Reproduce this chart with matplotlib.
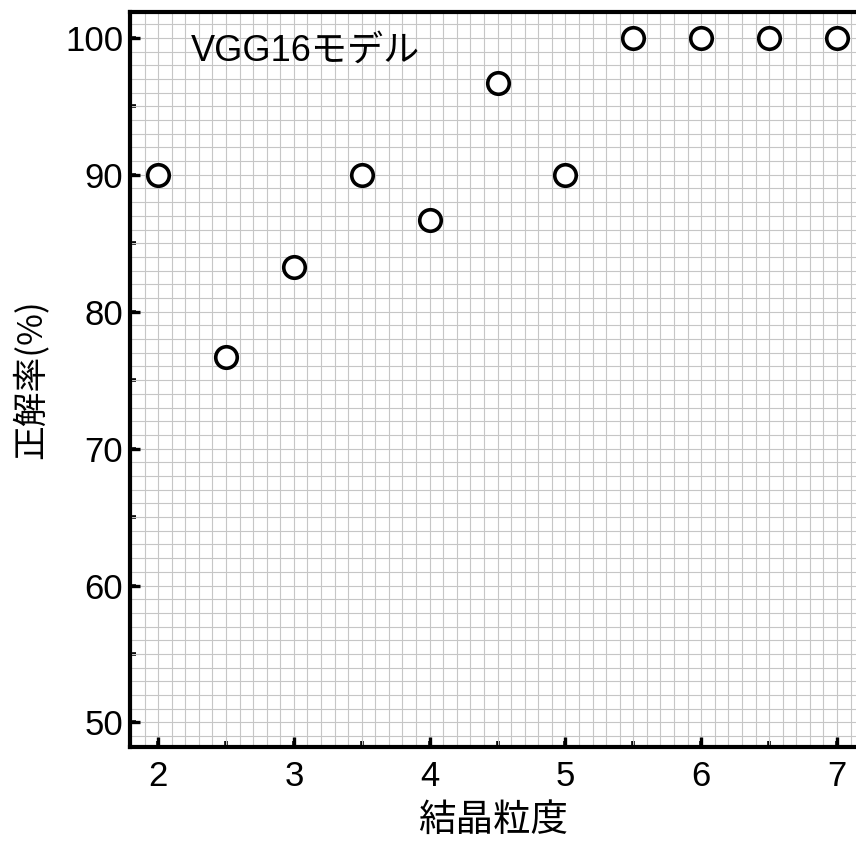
import matplotlib
matplotlib.use("Agg")
import matplotlib.pyplot as plt
from matplotlib.ticker import MultipleLocator

plt.rcParams['font.family'] = ['Liberation Sans', 'Noto Sans CJK JP', 'DejaVu Sans']

grain_size = [2.0, 2.5, 3.0, 3.5, 4.0, 4.5, 5.0, 5.5, 6.0, 6.5, 7.0]
accuracy = [90.0, 76.7, 83.3, 90.0, 86.7, 96.7, 90.0, 100.0, 100.0, 100.0, 100.0]
x_label = "結晶粒度"
y_label = "正解率(%)"
model_label = "VGG16モデル"

fig = plt.figure(figsize=(8.56, 8.47), dpi=100)
ax = fig.add_axes([0.152, 0.118, 0.848, 0.868])

ax.plot(grain_size, accuracy, linestyle='none', marker='o', markersize=15.5,
        markerfacecolor='white', markeredgecolor='black', markeredgewidth=2.6, zorder=3)

ax.set_xlim(1.794, 7.14)
ax.set_ylim(48.2, 101.9)

ax.xaxis.set_major_locator(MultipleLocator(1))
ax.xaxis.set_minor_locator(MultipleLocator(0.1))
ax.yaxis.set_major_locator(MultipleLocator(10))
ax.yaxis.set_minor_locator(MultipleLocator(1))

ax.grid(which='both', color='#c6c6c6', linewidth=0.8, zorder=0)
ax.set_axisbelow(True)

ax.tick_params(which='major', direction='in', length=7.5, width=2.4, labelsize=25,
               top=False, right=False)
ax.tick_params(axis='x', which='major', pad=9)
ax.tick_params(axis='y', which='major', pad=5)
ax.tick_params(which='minor', length=0)

ax2 = ax.secondary_xaxis('bottom')
ax2.xaxis.set_major_locator(MultipleLocator(0.5))
ax2.tick_params(direction='in', length=4.5, width=2.6, labelbottom=False, color='black')
ax3 = ax.secondary_yaxis('left')
ax3.yaxis.set_major_locator(MultipleLocator(5))
ax3.tick_params(direction='in', length=4.5, width=2.6, labelleft=False, color='black')
for a in (ax2, ax3):
    for s in a.spines.values():
        s.set_visible(False)

for side in ['left', 'bottom', 'top']:
    ax.spines[side].set_linewidth(3)
ax.spines['right'].set_visible(False)

ax.set_xlabel(x_label, fontsize=27, family=['Noto Sans CJK JP'], labelpad=6)
ax.set_ylabel(y_label, fontsize=25, family=['Noto Sans CJK JP'], labelpad=12)

ax.text(2.24, 99.0, model_label, fontsize=26, family=['Liberation Sans', 'Noto Sans CJK JP'],
        ha='left', va='center', zorder=4)

fig.savefig("out.png", dpi=100)
